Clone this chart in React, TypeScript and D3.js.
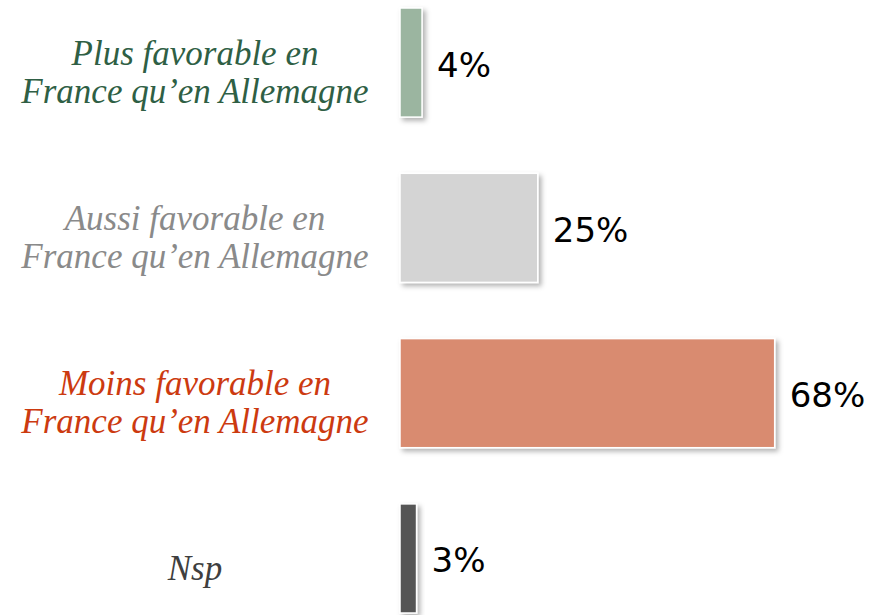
import * as d3 from 'd3';
import React, { useEffect, useRef } from 'react';

// categories (each label split in lines), values in %, colours
const categories = ['plus', 'aussi', 'moins', 'nsp'];
const labelLines = [
  ['Plus favorable en', 'France qu\u2019en Allemagne'],
  ['Aussi favorable en', 'France qu\u2019en Allemagne'],
  ['Moins favorable en', 'France qu\u2019en Allemagne'],
  ['Nsp'],
];
const values = [4, 25, 68, 3];
const barColors = ['#9bb5a0', '#d4d4d4', '#d98b70', '#555555'];
const labelColors = ['#2f5f45', '#8a8a8a', '#cc3a10', '#3f3f3f'];

const App: React.FC = () => {
  const svgRef = useRef<SVGSVGElement | null>(null);

  useEffect(() => {
    if (!svgRef.current) return;

    const width = 885;
    const height = 615;
    const x0 = 400;

    const svg = d3.select(svgRef.current);
    svg.selectAll('*').remove();
    svg.attr('width', width).attr('height', height);

    // soft shadow under the bars
    const defs = svg.append('defs');
    const filter = defs.append('filter').attr('id', 'shadow')
      .attr('x', '-50%').attr('y', '-20%').attr('width', '200%').attr('height', '140%');
    filter.append('feDropShadow')
      .attr('dx', 3).attr('dy', 3).attr('stdDeviation', 2.5)
      .attr('flood-color', '#000').attr('flood-opacity', 0.3);

    const xScale = d3.scaleLinear().domain([0, 100]).range([0, 551]);
    const yScale = d3.scaleBand<string>()
      .domain(categories)
      .range([8, 613])
      .paddingInner(0.34)
      .paddingOuter(0);

    const rows = svg.selectAll('g.row')
      .data(values)
      .enter()
      .append('g')
      .attr('class', 'row');

    // bars
    rows.append('rect')
      .attr('x', x0)
      .attr('y', (d, i) => yScale(categories[i])!)
      .attr('width', (d) => xScale(d))
      .attr('height', yScale.bandwidth())
      .attr('fill', (d, i) => barColors[i])
      .attr('stroke', '#fff')
      .attr('stroke-width', 1.5)
      .attr('filter', 'url(#shadow)');

    // value labels
    rows.append('text')
      .attr('x', (d) => x0 + xScale(d) + 15)
      .attr('y', (d, i) => yScale(categories[i])! + yScale.bandwidth() / 2 + 14)
      .attr('font-family', '"DejaVu Sans", Verdana, sans-serif')
      .attr('font-size', 34)
      .attr('fill', '#000')
      .text((d) => `${d}%`);

    // category labels, centred left of the bars
    rows.append('text')
      .attr('text-anchor', 'middle')
      .attr('font-family', '"Liberation Serif", Georgia, serif')
      .attr('font-style', 'italic')
      .attr('font-size', 35)
      .attr('fill', (d, i) => labelColors[i])
      .each(function (d, i) {
        const lines = labelLines[i];
        const mid = yScale(categories[i])! + yScale.bandwidth() / 2;
        const first = lines.length === 1 ? mid + 22 : mid + 2;
        lines.forEach((line, j) => {
          d3.select(this).append('tspan')
            .attr('x', 195)
            .attr('y', first + j * 38)
            .text(line);
        });
      });
  }, []);

  return (
    <svg ref={svgRef} style={{ position: 'absolute', left: 0, top: 0, background: '#fff' }}>
      {/* drawn by d3 */}
    </svg>
  );
};

export default App;
